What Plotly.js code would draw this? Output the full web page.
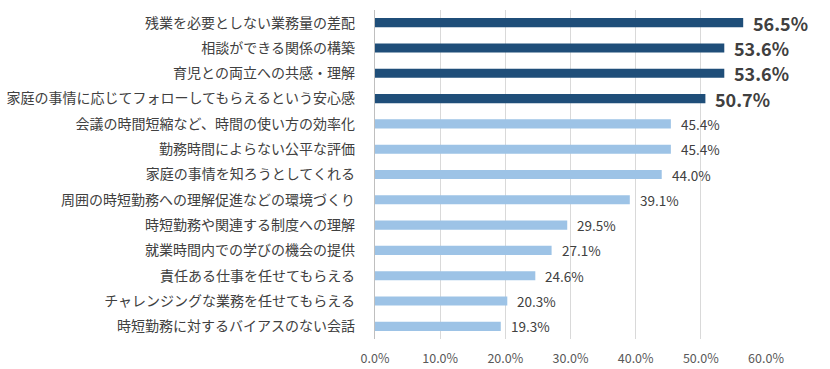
<!DOCTYPE html>
<html><head><meta charset="utf-8">
<script src="https://cdn.plot.ly/plotly-3.0.1.min.js"></script>
<style>html,body{margin:0;padding:0;background:#fff}#c{width:830px;height:369px}</style>
</head><body><div id="c"></div>
<script>
const categories = [
  "残業を必要としない業務量の差配",
  "相談ができる関係の構築",
  "育児との両立への共感・理解",
  "家庭の事情に応じてフォローしてもらえるという安心感",
  "会議の時間短縮など、時間の使い方の効率化",
  "勤務時間によらない公平な評価",
  "家庭の事情を知ろうとしてくれる",
  "周囲の時短勤務への理解促進などの環境づくり",
  "時短勤務や関連する制度への理解",
  "就業時間内での学びの機会の提供",
  "責任ある仕事を任せてもらえる",
  "チャレンジングな業務を任せてもらえる",
  "時短勤務に対するバイアスのない会話"
];
const values = [56.5, 53.6, 53.6, 50.7, 45.4, 45.4, 44.0, 39.1, 29.5, 27.1, 24.6, 20.3, 19.3];
const highlighted = [true, true, true, true, false, false, false, false, false, false, false, false, false];
const tickVals = [0, 10, 20, 30, 40, 50, 60];
const tickText = ["0.0%", "10.0%", "20.0%", "30.0%", "40.0%", "50.0%", "60.0%"];

const DARK = "#1F4E79", LIGHT = "#9DC3E6";
const font = '"Noto Sans CJK JP", "Noto Sans", sans-serif';

const hiCats = categories.filter((c, i) => highlighted[i]);
const hiVals = values.filter((v, i) => highlighted[i]);
const loCats = categories.filter((c, i) => !highlighted[i]);
const loVals = values.filter((v, i) => !highlighted[i]);

const traces = [
  {type: "bar", orientation: "h", y: hiCats, x: hiVals, marker: {color: DARK}, width: 0.36, hoverinfo: "skip"},
  {type: "bar", orientation: "h", y: loCats, x: loVals, marker: {color: LIGHT}, width: 0.36, hoverinfo: "skip"}
];

const annotations = categories.map((c, i) => ({
  x: values[i], y: c, xref: "x", yref: "y",
  text: values[i].toFixed(1) + "%",
  showarrow: false, xanchor: "left", yanchor: "middle", xshift: 8,
  font: highlighted[i] ? {family: font, size: 18, color: "#404040", weight: "bold"} : {family: font, size: 13.5, color: "#404040"}
}));

const layout = {
  width: 830, height: 369,
  margin: {l: 375, r: 64, t: 10, b: 30},
  paper_bgcolor: "#fff", plot_bgcolor: "#fff",
  showlegend: false, barmode: "overlay",
  font: {family: font},
  xaxis: {
    range: [0, 60], tickvals: tickVals, ticktext: tickText,
    showgrid: true, gridcolor: "#D9D9D9", gridwidth: 1.3, zeroline: false,
    showline: false, ticks: "", ticklabelstandoff: 10,
    tickfont: {family: font, size: 12.5, color: "#595959"}, fixedrange: true
  },
  yaxis: {
    type: "category", categoryorder: "array", categoryarray: categories.slice().reverse(),
    autorange: false, range: [-0.5, categories.length - 0.5],
    showgrid: false, zeroline: false, showline: true, linecolor: "#BFBFBF", linewidth: 1.3,
    ticks: "", ticklabelstandoff: 16,
    tickfont: {family: font, size: 14, color: "#404040"}, fixedrange: true
  },
  annotations: annotations
};

Plotly.newPlot("c", traces, layout, {displayModeBar: false, staticPlot: true});
</script>
</body></html>
